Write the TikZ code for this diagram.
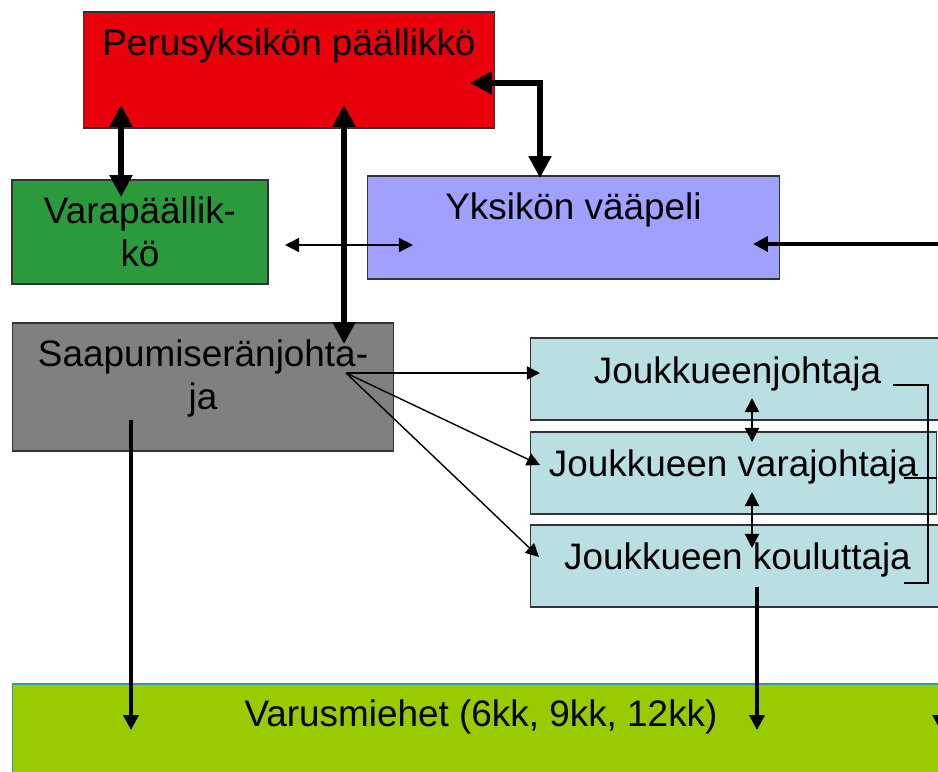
\documentclass[tikz,border=0pt]{standalone}
\usepackage{fontspec}
\setmainfont{Liberation Sans}
\usetikzlibrary{arrows.meta,positioning}
\usepackage{xcolor}

\definecolor{chiefred}{HTML}{E8000B}
\definecolor{deputygreen}{HTML}{2A9A3C}
\definecolor{sergeantblue}{HTML}{A0A0FF}
\definecolor{intakegray}{HTML}{808080}
\definecolor{squadblue}{HTML}{B9DFE3}
\definecolor{troopgreen}{HTML}{99CC00}
\definecolor{troopline}{HTML}{339999}

\begin{document}
\begin{tikzpicture}[
            x=0.02cm, y=-0.02cm,
            node distance=0.34cm,
            every node/.style={font=\fontsize{21}{24.5}\selectfont},
            box/.style={draw=black!80, line width=0.6pt, rectangle, inner sep=0pt},
            title/.style={inner sep=0pt, align=center},
            bigarrow/.style={line width=3.4pt, {Triangle[length=12.5pt,width=12.5pt]}-{Triangle[length=12.5pt,width=12.5pt]}},
            link/.style={line width=2.4pt, -{Triangle[length=8.5pt,width=8.5pt]}},
            thinarrow/.style={line width=0.8pt, -{Triangle[length=7.5pt,width=7.5pt]}},
            pairarrow/.style={line width=1.1pt, {Triangle[length=8pt,width=8pt]}-{Triangle[length=8pt,width=8pt]}}
        ]
            \useasboundingbox (0,0) rectangle (938,772);
            \clip (0,0) rectangle (938,772);

            % boxes
            \node[box, fill=chiefred, minimum width=8.24cm, minimum height=2.32cm] (chief) at (289,70) {};
            \node[box, fill=deputygreen, minimum width=5.12cm, minimum height=2.08cm] (deputy) at (140,232) {};
            \node[box, fill=sergeantblue, minimum width=8.26cm, minimum height=2.06cm] (sergeant) at (573.5,227.5) {};
            \node[box, fill=intakegray, minimum width=7.64cm, minimum height=2.56cm] (intake) at (203,387) {};
            \node[box, fill=squadblue, minimum width=8.3cm, minimum height=1.64cm] (lead) at (737.5,379) {};
            \node[box, fill=squadblue, minimum width=8.14cm, minimum height=1.64cm] (deplead) at (733.5,473) {};
            \node[box, fill=squadblue, minimum width=8.3cm, minimum height=1.64cm] (trainer) at (737.5,566) {};
            \node[box, draw=troopline, fill=troopgreen, minimum width=18.76cm, minimum height=2.12cm] (troops) at (481,737) {};

            % texts
            \node[title, below=of chief.north] (chieftext) {Perusyksikön päällikkö};
            \node[title, below=of deputy.north] (deputytext) {Varapäällik-\\kö};
            \node[title, below=of sergeant.north] (sergeanttext) {Yksikön vääpeli};
            \node[title, below=of intake.north] (intaketext) {Saapumiseränjohta-\\ja};
            \node[title, below=0.38cm of lead.north] (leadtext) {Joukkueenjohtaja};
            \node[title, below=0.36cm of deplead.north] (depleadtext) {Joukkueen varajohtaja};
            \node[title, below=0.36cm of trainer.north] (trainertext) {Joukkueen kouluttaja};
            \node[title, below=0.32cm of troops.north] (troopstext) {Varusmiehet (6kk, 9kk, 12kk)};

            % arrow ends
            \coordinate (chiefl) at (121,105);
            \coordinate (deputyt) at (121,197);
            \coordinate (chiefm) at (344,105);
            \coordinate (intaket) at (344,344);
            \coordinate (chiefr) at (470,83);
            \coordinate (sergeantt) at (540,178);
            \coordinate (deputyr) at (285,245);
            \coordinate (sergeantl) at (413,245);
            \coordinate (sergeantr) at (753,244);
            \coordinate (troopsr) at (940.3,730);
            \coordinate (fan) at (346,373);
            \coordinate (leadl) at (540,373);
            \coordinate (depleadl) at (540,465);
            \coordinate (trainerl) at (539,557);
            \coordinate (leadb) at (752,398);
            \coordinate (depleadt) at (752,442);
            \coordinate (depleadb) at (752,492);
            \coordinate (trainert) at (752,548);
            \coordinate (intakeb) at (131,420);
            \coordinate (troopsl) at (131,730);
            \coordinate (trainerb) at (757,587);
            \coordinate (troopsm) at (757,730);

            \draw[bigarrow] (chiefl) -- (deputyt);
            \draw[bigarrow] (chiefm) -- (intaket);
            \draw[bigarrow] (chiefr) -| (sergeantt);
            \draw[pairarrow, line width=0.8pt] (deputyr) -- (sergeantl);
            \draw[link, {Triangle[length=8.5pt,width=8.5pt]}-{Triangle[length=8.5pt,width=8.5pt]}] (sergeantr) -| (troopsr);
            \draw[thinarrow] (fan) -- (leadl);
            \draw[thinarrow] (fan) -- (depleadl);
            \draw[thinarrow] (fan) -- (trainerl);
            \draw[pairarrow] (leadb) -- (depleadt);
            \draw[pairarrow] (depleadb) -- (trainert);
            \draw[link] (intakeb) -- (troopsl);
            \draw[link] (trainerb) -- (troopsm);

            % brackets
            \draw[line width=0.9pt] (893,385) -- (928,385) -- (928,583) -- (904,583);
            \draw[line width=0.9pt] (904,478) -- (deplead.east |- 0,478);
        \end{tikzpicture}
\end{document}
